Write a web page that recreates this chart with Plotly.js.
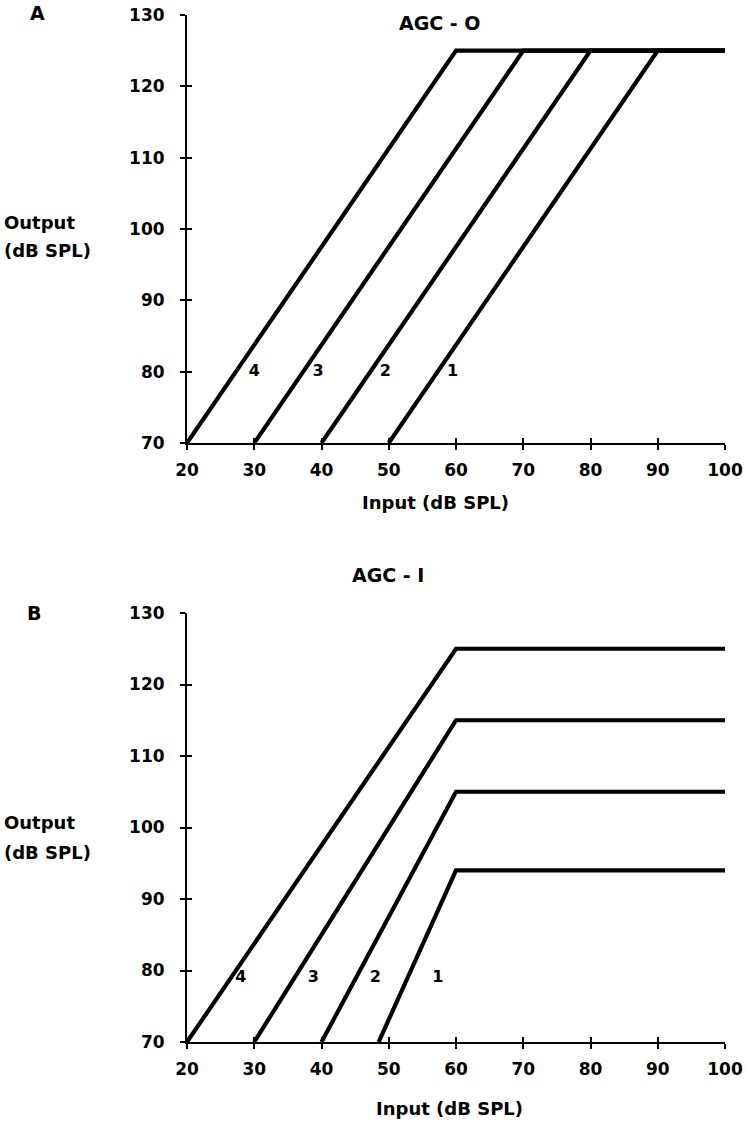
<!DOCTYPE html>
<html>
<head>
<meta charset="utf-8">
<script src="https://cdn.plot.ly/plotly-3.0.1.min.js"></script>
<style>html,body{margin:0;padding:0;background:#fff;}</style>
</head>
<body>
<div id="chart" style="width:746px;height:1126px;"></div>
<script>
// ---- data ----
const xTicks = [20, 30, 40, 50, 60, 70, 80, 90, 100];
const yTicks = [70, 80, 90, 100, 110, 120, 130];

// Panel A (AGC - O)
const aX1 = [50, 90, 100], aY1 = [70, 125, 125];
const aX2 = [40, 80, 100], aY2 = [70, 125, 125];
const aX3 = [30, 70, 100], aY3 = [70, 125, 125];
const aX4 = [20, 60, 100], aY4 = [70, 125, 125];
const aLabelX = [30, 39.5, 49.5, 59.5];
const aLabelY = [80, 80, 80, 80];
const aLabelText = ['4', '3', '2', '1'];

// Panel B (AGC - I)
const bX1 = [48.5, 60, 100], bY1 = [70, 94, 94];
const bX2 = [40, 60, 100], bY2 = [70, 105, 105];
const bX3 = [30, 60, 100], bY3 = [70, 115, 115];
const bX4 = [20, 60, 100], bY4 = [70, 125, 125];
const bLabelX = [28, 38.8, 48, 57.3];
const bLabelY = [79, 79, 79, 79];
const bLabelText = ['4', '3', '2', '1'];

// ---- styling ----
const W = 746, H = 1126;
const FONT = 'DejaVu Sans';
const px = v => v / W;
const py = v => 1 - v / H;
const lineStyle = {color: '#000', width: 4.2};

function curve(x, y, xa, ya) {
  return {x: x, y: y, xaxis: xa, yaxis: ya, type: 'scatter', mode: 'lines',
          line: lineStyle, hoverinfo: 'skip', showlegend: false};
}
function labels(x, y, t, xa, ya) {
  return {x: x, y: y, text: t, xaxis: xa, yaxis: ya, type: 'scatter', mode: 'text',
          textfont: {family: FONT, size: 16, color: '#000', weight: 'bold'},
          hoverinfo: 'skip', showlegend: false, cliponaxis: false};
}
function ghost(xa, ya) {
  return {x: [xTicks[0]], y: [yTicks[0]], xaxis: xa, yaxis: ya, type: 'scatter',
          mode: 'markers', marker: {opacity: 0}, hoverinfo: 'skip', showlegend: false};
}

const traces = [
  curve(aX1, aY1, 'x', 'y'), curve(aX2, aY2, 'x', 'y'),
  curve(aX3, aY3, 'x', 'y'), curve(aX4, aY4, 'x', 'y'),
  labels(aLabelX, aLabelY, aLabelText, 'x', 'y'),
  curve(bX1, bY1, 'x2', 'y2'), curve(bX2, bY2, 'x2', 'y2'),
  curve(bX3, bY3, 'x2', 'y2'), curve(bX4, bY4, 'x2', 'y2'),
  labels(bLabelX, bLabelY, bLabelText, 'x2', 'y2'),
  ghost('x3', 'y3'), ghost('x4', 'y4')
];

const tickFont = {family: FONT, size: 17, color: '#000', weight: 'bold'};
function mainX(domain, anchor) {
  return {domain: domain, anchor: anchor, range: [20, 100], tickvals: xTicks,
          ticktext: xTicks.map(String), ticks: 'outside', ticklen: 5, tickwidth: 2,
          tickcolor: '#000', showline: true, linecolor: '#000', linewidth: 2,
          showgrid: false, zeroline: false, tickfont: tickFont, ticklabelstandoff: 6,
          fixedrange: true};
}
function mainY(domain, anchor) {
  return {domain: domain, anchor: anchor, range: [70, 130], tickvals: yTicks,
          ticktext: yTicks.map(String), ticks: 'outside', ticklen: 5, tickwidth: 2,
          tickcolor: '#000', showline: true, linecolor: '#000', linewidth: 2,
          showgrid: false, zeroline: false, tickfont: tickFont, ticklabelstandoff: 12,
          fixedrange: true};
}
function innerX(over, anchor) {
  return {overlaying: over, anchor: anchor, matches: over, tickvals: xTicks,
          ticks: 'inside', ticklen: 5, tickwidth: 2, tickcolor: '#000',
          showticklabels: false, showline: false, showgrid: false, zeroline: false};
}
function innerY(over, anchor) {
  return {overlaying: over, anchor: anchor, matches: over, tickvals: yTicks,
          ticks: 'inside', ticklen: 5, tickwidth: 2, tickcolor: '#000',
          showticklabels: false, showline: false, showgrid: false, zeroline: false};
}

const xDom = [px(187), px(725)];
const yDomA = [py(443), py(15)];
const yDomB = [py(1042), py(613)];

const titleFont = {family: FONT, size: 18, color: '#000', weight: 'bold'};
function ann(text, x, y, xanchor, size) {
  return {text: text, x: px(x), y: py(y), xref: 'paper', yref: 'paper',
          xanchor: xanchor || 'center', yanchor: 'middle', showarrow: false,
          align: 'left', font: Object.assign({}, titleFont, size ? {size: size} : {})};
}

const layout = {
  width: W, height: H,
  margin: {l: 0, r: 0, t: 0, b: 0},
  paper_bgcolor: '#fff', plot_bgcolor: '#fff',
  showlegend: false,
  xaxis: mainX(xDom, 'y'),
  yaxis: mainY(yDomA, 'x'),
  xaxis2: mainX(xDom, 'y2'),
  yaxis2: mainY(yDomB, 'x2'),
  xaxis3: innerX('x', 'y'),
  yaxis3: innerY('y', 'x'),
  xaxis4: innerX('x2', 'y2'),
  yaxis4: innerY('y2', 'x2'),
  annotations: [
    ann('A', 37, 13, 'center', 19),
    ann('AGC - O', 440, 23, 'center', 19),
    ann('Output', 2, 222, 'left'),
    ann('(dB SPL)', 2, 250, 'left'),
    ann('Input (dB SPL)', 436, 503),
    ann('B', 34, 613, 'center', 19),
    ann('AGC - I', 388, 575, 'center', 19),
    ann('Output', 2, 822, 'left'),
    ann('(dB SPL)', 2, 852, 'left'),
    ann('Input (dB SPL)', 450, 1108)
  ]
};

Plotly.newPlot('chart', traces, layout, {staticPlot: true, displayModeBar: false});
</script>
</body>
</html>
